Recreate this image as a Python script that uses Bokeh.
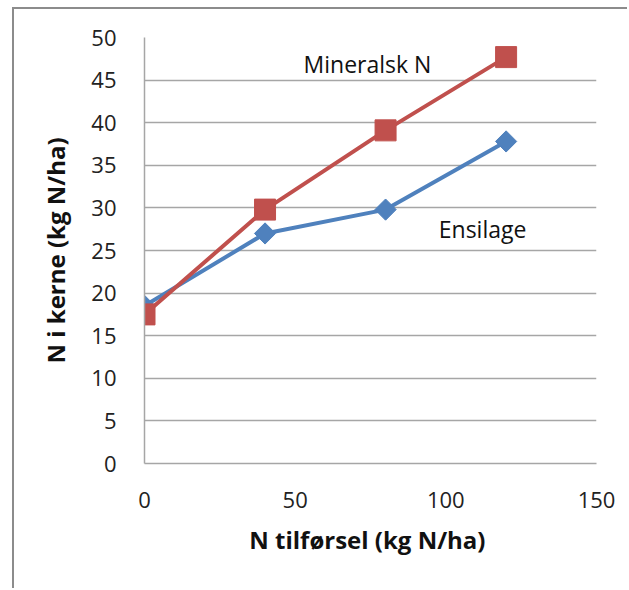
import math
from bokeh.plotting import figure
from bokeh.models import Range1d, FixedTicker, Label
from bokeh.embed import file_html
from bokeh.resources import INLINE

x_vals = [0, 40, 80, 120]
ensilage = [18.5, 27.0, 29.8, 37.8]
mineralsk = [17.5, 29.8, 39.1, 47.7]
x_ticks = [0, 50, 100, 150]
y_ticks = [0, 5, 10, 15, 20, 25, 30, 35, 40, 45, 50]

FONT = "Open Sans"
BLUE = "#4F81BD"
RED = "#C0504D"
GRID = "#a6a6a6"

p = figure(width=615, height=581, output_backend="svg", toolbar_location=None,
           x_range=Range1d(0, 150), y_range=Range1d(0, 50),
           min_border_left=130, min_border_right=33, min_border_top=28,
           min_border_bottom=127)
p.styles = {"margin-left": "12px", "margin-top": "7px",
            "border-left": "2px solid #8c8c8c", "border-top": "2px solid #8c8c8c"}
p.outline_line_color = None
p.background_fill_color = "white"
p.border_fill_color = "white"

p.xaxis.ticker = FixedTicker(ticks=x_ticks)
p.yaxis.ticker = FixedTicker(ticks=y_ticks)
p.xgrid.grid_line_color = None
p.ygrid.grid_line_color = GRID
p.ygrid.grid_line_width = 1.5

for ax in (p.xaxis[0], p.yaxis[0]):
    ax.axis_line_color = GRID
    ax.axis_line_width = 1.5
    ax.major_tick_line_color = None
    ax.minor_tick_line_color = None
    ax.major_label_text_font = FONT
    ax.major_label_text_font_size = "22px"
    ax.major_label_text_color = "#222222"
    ax.axis_label_text_font = FONT
    ax.axis_label_text_font_size = "24px"
    ax.axis_label_text_font_style = "bold"
    ax.axis_label_text_color = "#111111"

p.xaxis.major_label_standoff = 22
p.yaxis.major_label_standoff = 22
p.xaxis.axis_label = "N  tilførsel (kg N/ha)"
p.yaxis.axis_label = "N i kerne (kg N/ha)"
p.xaxis.axis_label_standoff = 12
p.yaxis.axis_label_standoff = 16

p.line(x_vals, ensilage, line_color=BLUE, line_width=4)
p.scatter(x_vals, ensilage, marker="square", angle=math.pi / 4, size=15,
          fill_color=BLUE, line_color=BLUE)
p.line(x_vals, mineralsk, line_color=RED, line_width=4)
p.scatter(x_vals, mineralsk, marker="square", size=21, fill_color=RED, line_color=RED)

p.add_layout(Label(x=74, y=46.9, text="Mineralsk N",
                   text_font=FONT, text_font_size="23px", text_align="center",
                   text_baseline="middle", text_color="#111111"))
p.add_layout(Label(x=112.2, y=27.5, text="Ensilage",
                   text_font=FONT, text_font_size="23px", text_align="center",
                   text_baseline="middle", text_color="#111111"))

open("out.html", "w").write(file_html(p, INLINE))
